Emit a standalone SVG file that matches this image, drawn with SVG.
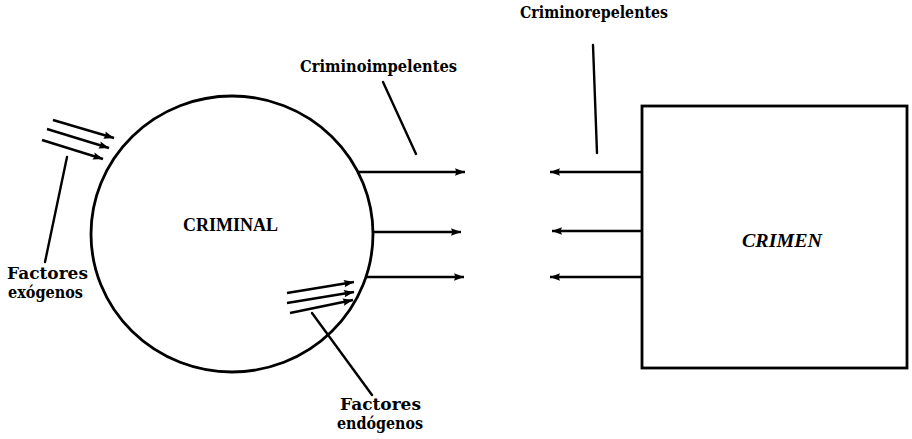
<svg xmlns="http://www.w3.org/2000/svg" width="912" height="439" viewBox="0 0 912 439">
<defs>
<marker id="ah" markerUnits="userSpaceOnUse" markerWidth="11" markerHeight="9" refX="10" refY="4.5" orient="auto" overflow="visible">
<path d="M0,0.8 L10,4.5 L0,8.2 Q2,4.5 0,0.8 z" fill="#000"/>
</marker>
</defs>
<style>
.shape{fill:none;stroke:#000;stroke-width:2.8}
.arr{fill:none;stroke:#000;stroke-width:2.4;marker-end:url(#ah)}
.lead{fill:none;stroke:#000;stroke-width:2.4;stroke-linecap:round}
.lbl{font-family:"DejaVu Serif","Liberation Serif",serif;font-weight:bold;font-size:16px;fill:#000}
.big{font-family:"Liberation Serif",serif;font-weight:bold;font-size:18px;fill:#000}
</style>
<rect width="912" height="439" fill="#fff"/>
<g id="criminal">
<ellipse class="shape" cx="232" cy="234" rx="141" ry="138"/>
<text class="big" x="183" y="231" textLength="95" lengthAdjust="spacingAndGlyphs">CRIMINAL</text>
</g>
<g id="crimen">
<rect class="shape" x="642" y="106" width="265" height="262"/>
<text class="big" x="742" y="247" font-style="italic" textLength="80" lengthAdjust="spacingAndGlyphs">CRIMEN</text>
</g>
<g id="factores-exogenos">
<text class="lbl" x="7" y="279" textLength="81" lengthAdjust="spacingAndGlyphs">Factores</text>
<text class="lbl" x="8" y="298" textLength="75" lengthAdjust="spacingAndGlyphs">exógenos</text>
</g>
<g id="factores-endogenos">
<text class="lbl" x="340" y="410" textLength="81" lengthAdjust="spacingAndGlyphs">Factores</text>
<text class="lbl" x="337" y="429" textLength="86" lengthAdjust="spacingAndGlyphs">endógenos</text>
</g>
<g id="criminoimpelentes-label">
<text class="lbl" x="300" y="72" textLength="157" lengthAdjust="spacingAndGlyphs">Criminoimpelentes</text>
</g>
<g id="criminorepelentes-label">
<text class="lbl" x="520" y="18" textLength="148" lengthAdjust="spacingAndGlyphs">Criminorepelentes</text>
</g>
<g id="connectors">
<line class="arr" x1="53" y1="120" x2="114" y2="138"/>
<line class="arr" x1="47" y1="129" x2="109" y2="148"/>
<line class="arr" x1="42" y1="140" x2="103" y2="159"/>
<line class="lead" x1="67" y1="157" x2="45" y2="262"/>
<line class="arr" x1="287" y1="293" x2="354" y2="282"/>
<line class="arr" x1="287" y1="303" x2="354" y2="292"/>
<line class="arr" x1="290" y1="313" x2="353" y2="300"/>
<line class="lead" x1="312" y1="313" x2="372" y2="395"/>
<line class="arr" x1="357" y1="172" x2="465" y2="172"/>
<line class="arr" x1="372" y1="232" x2="461" y2="232"/>
<line class="arr" x1="365" y1="277" x2="464" y2="277"/>
<line class="lead" x1="383" y1="82" x2="416" y2="154"/>
<line class="arr" x1="642" y1="172" x2="550" y2="172"/>
<line class="arr" x1="642" y1="231" x2="552" y2="231"/>
<line class="arr" x1="642" y1="277" x2="550" y2="277"/>
<line class="lead" x1="593" y1="45" x2="597" y2="153"/>
</g>
</svg>
